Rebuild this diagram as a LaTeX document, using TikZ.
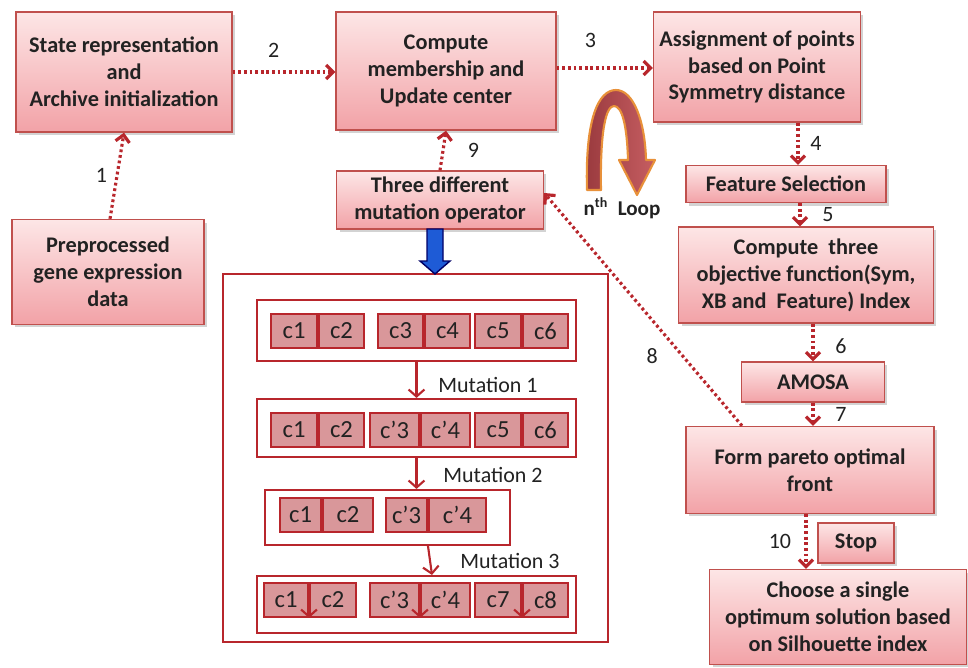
\documentclass[tikz,border=0pt]{standalone}
\usepackage{fontspec}
\setmainfont{Carlito}
\usetikzlibrary{arrows.meta,shadows,positioning}
\definecolor{boxtop}{HTML}{FDE6E6}
\definecolor{boxbot}{HTML}{F2A2A7}
\definecolor{boxline}{HTML}{C0504D}
\definecolor{darkred}{HTML}{B8262C}
\definecolor{cellfill}{HTML}{D9979A}
\definecolor{txt}{HTML}{222222}
\definecolor{loopdark}{HTML}{9A3A3E}
\definecolor{looplight}{HTML}{C65E62}
\definecolor{loopline}{HTML}{E8913A}
\definecolor{bluefill}{HTML}{1E5BD6}

\begin{document}
\begin{tikzpicture}[x=0.02cm,y=-0.02cm,
    stepbox/.style={rectangle,draw=boxline,line width=0.8pt,top color=boxtop,bottom color=boxbot,
      align=center,text=txt,font=\fontsize{12.7}{15.3}\selectfont\bfseries,
      drop shadow={shadow xshift=0.06cm,shadow yshift=-0.06cm,opacity=0.35,fill=gray}},
    flow/.style={draw=darkred,line width=1.8pt,dash pattern=on 1.6pt off 1.6pt,
      -{Straight Barb[length=4pt,width=8pt]}},
    num/.style={text=txt,font=\fontsize{12.5}{14}\selectfont},
    row/.style={draw=darkred,line width=1.2pt,fill=white},
    cell/.style={draw=darkred,line width=1.1pt,fill=cellfill,minimum height=0.68cm,inner sep=0pt,
      text=txt,font=\fontsize{14}{16}\selectfont},
    mut/.style={draw=darkred,line width=1.2pt,-{Straight Barb[length=4pt,width=9pt]}}]

    \useasboundingbox (0,0) rectangle (968,667);

    % main steps
    \node[stepbox,minimum width=4.32cm,minimum height=2.4cm] (state) at (124,72) {State representation\\and\\Archive initialization};
    \node[stepbox,minimum width=4.4cm,minimum height=2.36cm] (member) at (446,71) {Compute\\membership and\\Update center};
    \node[stepbox,minimum width=4.1cm,minimum height=2.2cm] (assign) at (757,67) {Assignment of points\\based on Point\\Symmetry distance};
    \node[stepbox,minimum width=3.84cm,minimum height=2.1cm] (prep) at (108,272) {Preprocessed\\gene expression\\data};
    \node[stepbox,minimum width=4.14cm,minimum height=1.12cm] (mutop) at (440,200) {Three different\\mutation operator};
    \node[stepbox,minimum width=4cm,minimum height=0.74cm] (featsel) at (786,184) {Feature Selection};
    \node[stepbox,minimum width=5.1cm,minimum height=1.92cm] (objfun) at (806,275) {Compute~ three\\objective function(Sym,\\XB and~ Feature) Index};
    \node[stepbox,minimum width=2.86cm,minimum height=0.8cm] (amosa) at (813,382) {AMOSA};
    \node[stepbox,minimum width=4.96cm,minimum height=1.74cm] (pareto) at (810,470) {Form pareto optimal\\front};
    \node[stepbox,minimum width=1.52cm,minimum height=0.8cm] (stop) at (856,543) {Stop};
    \node[stepbox,minimum width=5.14cm,minimum height=1.9cm] (choose) at (838,617) {Choose a single\\optimum solution based\\on Silhouette index};

    % mutation panel
    \node[row,minimum width=7.7cm,minimum height=7.36cm] (outer) at (415.5,458) {};
    \node[row,minimum width=6.38cm,minimum height=1.22cm] (row1) at (416.5,330.5) {};
    \node[row,minimum width=6.38cm,minimum height=1.16cm] (row2) at (416.5,428) {};
    \node[row,minimum width=4.9cm,minimum height=1.1cm] (row3) at (387.5,517.5) {};
    \node[row,minimum width=6.38cm,minimum height=1.14cm] (row4) at (416.5,604.5) {};

    \foreach \nm/\x/\y/\wa/\wb/\la/\lb in {
        a1/318/331/0.92/0.9/c1/c2, a2/424/331/0.9/0.9/c3/c4, a3/522/331/0.92/0.9/c5/c6,
        b1/318/430/0.92/0.9/c1/c2, b2/420/430/0.98/0.98/{c’3}/{c’4}, b3/522/430/0.92/0.9/c5/c6,
        c1/322/515/0.82/1.0/c1/c2, c2/428/515/0.82/1.14/{c’3}/{c’4},
        d1/309/600/0.88/0.92/c1/c2, d2/420/600/0.98/0.98/{c’3}/{c’4}, d3/522/600/0.92/0.9/c7/c8}{
      \node[cell,anchor=east,minimum width=\wa cm] (\nm-l) at (\x,\y) {\la};
      \node[cell,anchor=west,minimum width=\wb cm] (\nm-r) at (\x,\y) {\lb};
    }
    \foreach \nm in {d1,d2,d3}
      \draw[mut] (\nm-l.north east) -- (\nm-l.south east);

    \draw[mut] (row1.south) -- (row2.north);
    \draw[mut] (row2.south) -- (row2.south |- row3.north);
    \draw[mut] (row3.south -| c2-l.east) -- ([xshift=0.08cm]row4.north -| c2-l.east);
    \node[num] (mut1) at (488,385) {Mutation 1};
    \node[num] (mut2) at (493,475) {Mutation 2};
    \node[num] (mut3) at (510,561) {Mutation 3};

    % blue arrow into the panel
    \filldraw[fill=bluefill,draw=blue!40!black,line width=0.8pt]
      (427,229) -- (443,229) -- (443,261) -- (450,261) -- (435,274) -- (420,261) -- (427,261) -- cycle;

    % loop sign
    \draw[left color=loopdark,right color=looplight,draw=loopline,line width=1.2pt,line join=round]
      (587,190) .. controls (585,120) and (598,90) .. (616,90)
      .. controls (633,90) and (645,120) .. (646,160)
      -- (655,160) -- (637,195) -- (619,160) -- (628,160)
      .. controls (627,125) and (622,106) .. (614,106)
      .. controls (606,106) and (600,130) .. (601,190) -- cycle;
    \node[text=txt,font=\fontsize{12}{14}\selectfont\bfseries] (loop) at (622,208) {n\textsuperscript{th}~ Loop};

    % numbered flow
    \draw[flow] ([xshift=0.04cm]prep.north) -- node[num,left=0.05cm]{1} (state.south);
    \draw[flow] (state.east) -- node[num,pos=0.4,above=0.15cm]{2} (state.east -| member.west);
    \draw[flow] ([yshift=0.06cm]member.east) -- node[num,pos=0.35,above=0.25cm]{3} ([yshift=0.06cm]member.east -| assign.west);
    \draw[flow] ([xshift=0.82cm]assign.south) -- node[num,right=0.1cm]{4} ([xshift=0.82cm]assign.south |- featsel.north);
    \draw[flow] ([xshift=0.28cm]featsel.south) -- node[num,right=0.3cm]{5} ([xshift=0.28cm]featsel.south |- objfun.north);
    \draw[flow] (objfun.south -| amosa.north) -- node[num,pos=0.6,right=0.3cm]{6} (amosa.north);
    \draw[flow] (amosa.south) -- node[num,right=0.3cm]{7} (amosa.south |- pareto.north);
    \draw[flow] ([xshift=-1.36cm]pareto.north) -- node[num,pos=0.3,left=0.35cm]{8} ([yshift=0.14cm]mutop.east);
    \draw[flow] (mutop.north) -- node[num,right=0.35cm]{9} (member.south);
    \draw[flow] ([xshift=-0.08cm]pareto.south) -- node[num,left=0.15cm]{10} ([xshift=-0.08cm]pareto.south |- choose.north);
\end{tikzpicture}
\end{document}
